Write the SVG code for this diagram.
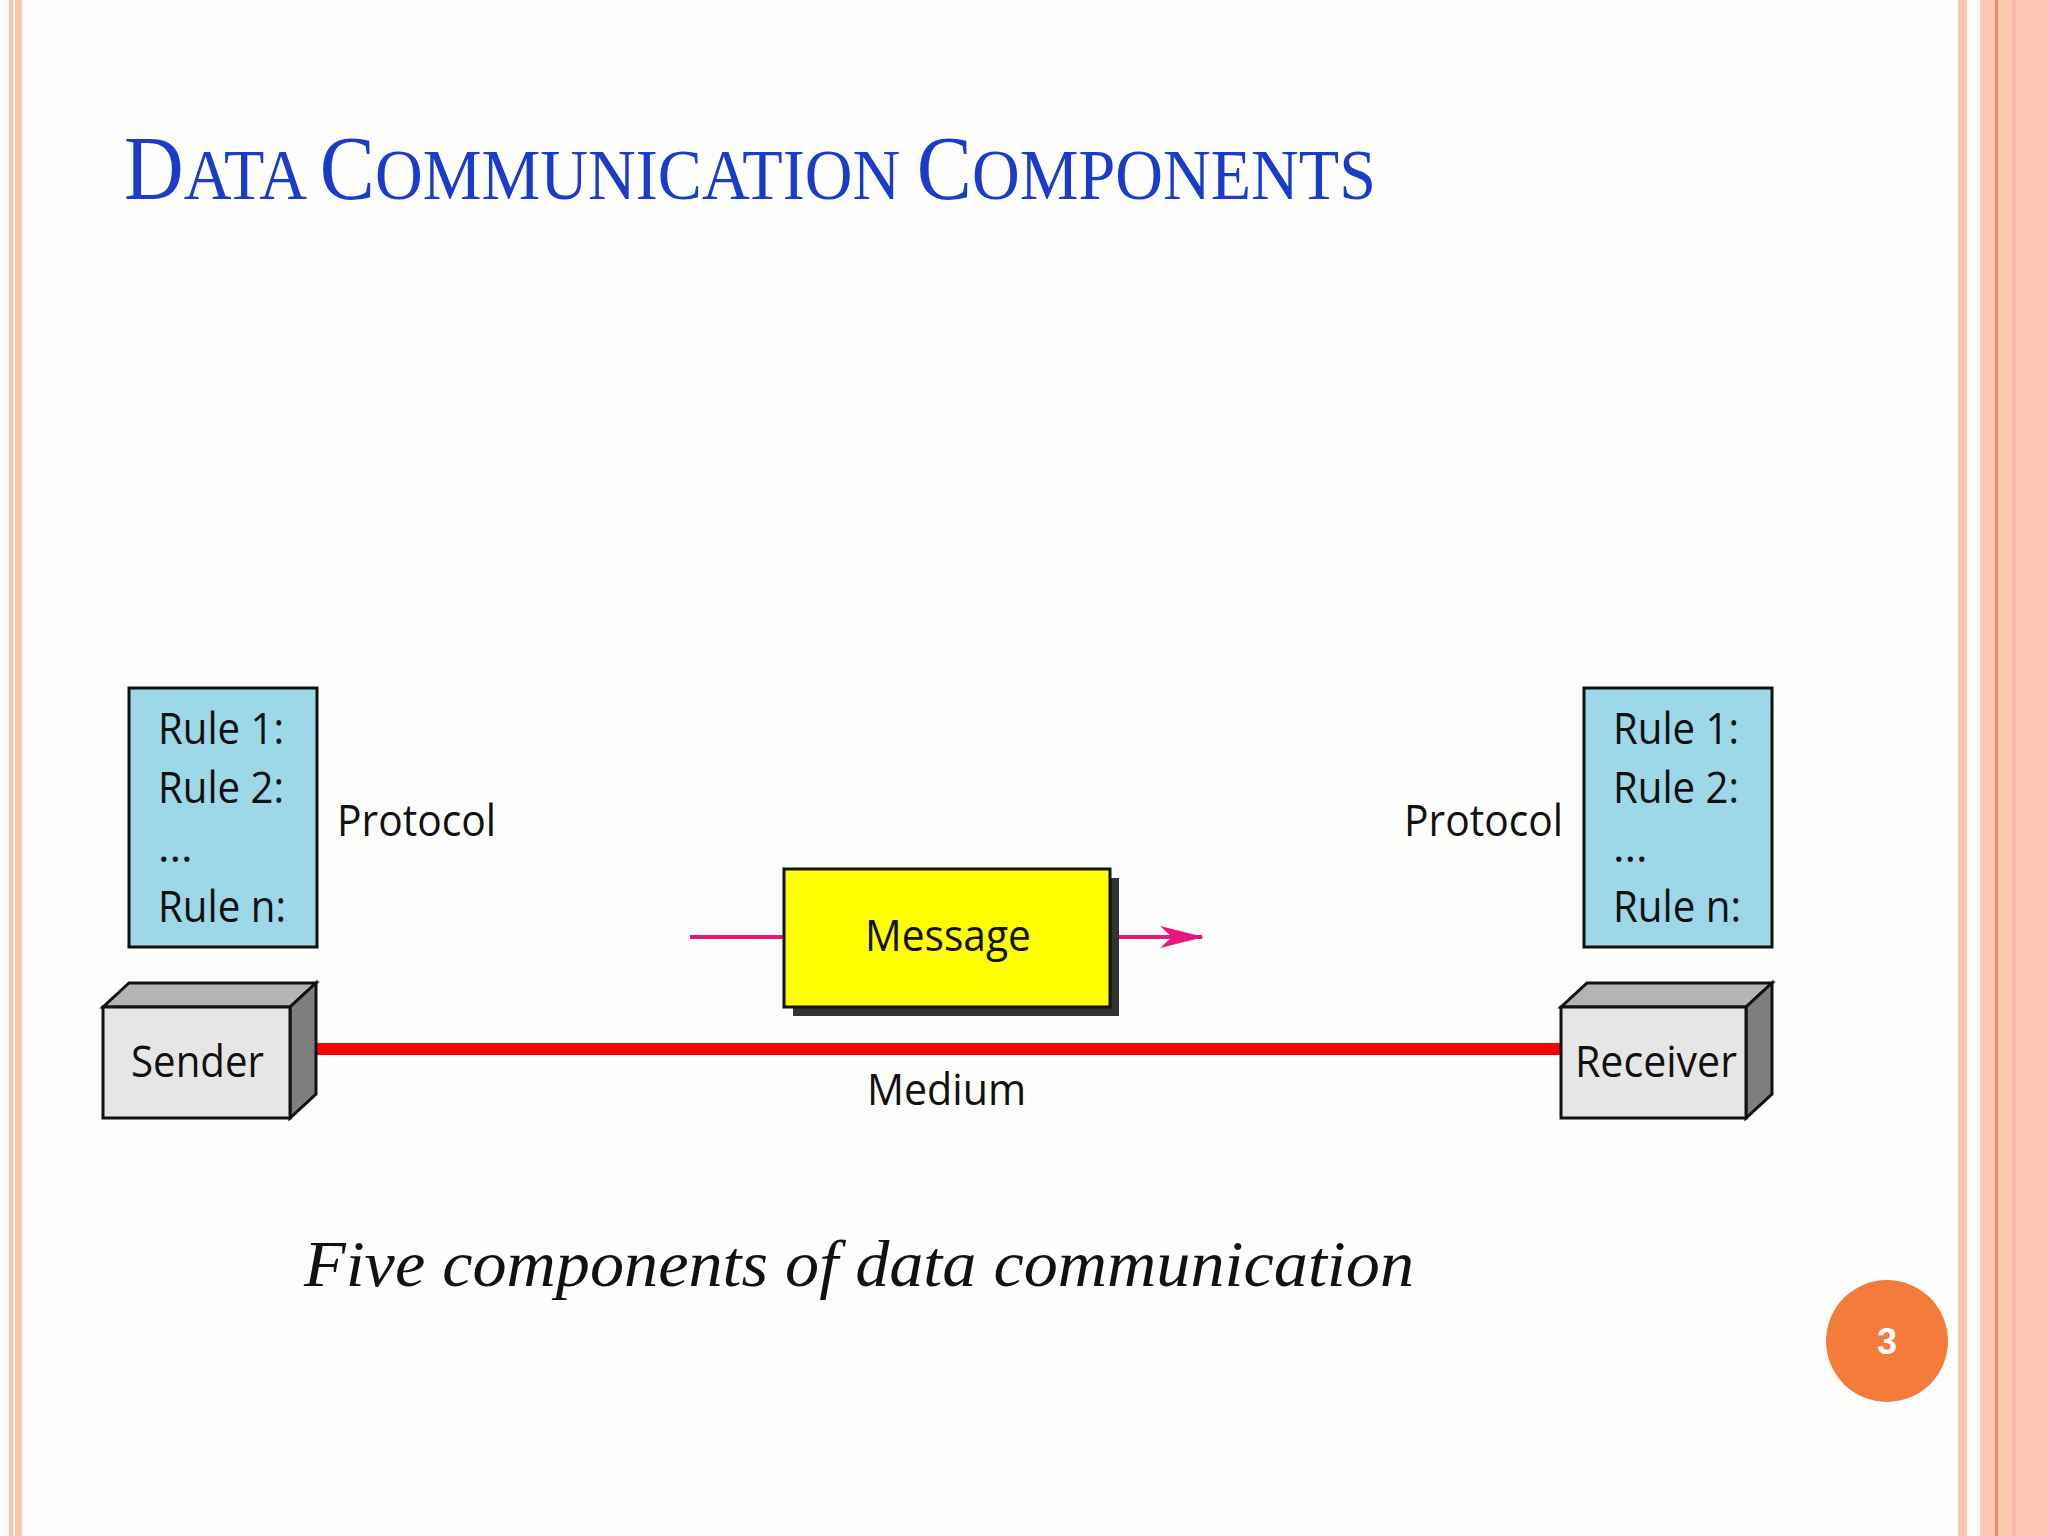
<svg xmlns="http://www.w3.org/2000/svg" width="2048" height="1536" viewBox="0 0 2048 1536">
<style>
.r{font-family:"Open Sans","Noto Sans",sans-serif;font-size:44px;fill:#111}
.rule{fill:#9dd8e8;stroke:#111;stroke-width:3}
.front{fill:#e6e6e6;stroke:#111;stroke-width:3}
.top{fill:#b4b4b4;stroke:#111;stroke-width:3}
.side{fill:#7e7e7e;stroke:#111;stroke-width:3}
</style>
<defs>
<marker id="ah" markerWidth="44" markerHeight="22" refX="42" refY="11" orient="auto" markerUnits="userSpaceOnUse"><path d="M0,0 L44,11 L0,22 L12,11 z" fill="#e8157f"/></marker>
</defs>
<rect width="2048" height="1536" fill="#fdfefc"/>
<rect x="9" y="0" width="4" height="1536" fill="#f9c4ae"/>
<rect x="15" y="0" width="7" height="1536" fill="#fcc6b2"/>
<rect x="1958" y="0" width="9" height="1536" fill="#fcc6b2"/>
<rect x="1980" y="0" width="68" height="1536" fill="#fdc9b4"/>
<rect x="1995" y="0" width="3" height="1536" fill="#f08a50"/>
<rect x="2012" y="0" width="4" height="1536" fill="#fbbba2"/>
<text x="124" y="199" font-family="Liberation Serif,serif" fill="#1a3cc8" font-size="72" textLength="1252" lengthAdjust="spacingAndGlyphs"><tspan font-size="90">D</tspan>ATA <tspan font-size="90">C</tspan>OMMUNICATION <tspan font-size="90">C</tspan>OMPONENTS</text>
<g id="connectors">
<line x1="303" y1="1049" x2="1561" y2="1049" stroke="#ff0000" stroke-width="12"/>
<line x1="690" y1="937" x2="784" y2="937" stroke="#e8157f" stroke-width="4"/>
<line x1="1110" y1="937" x2="1202" y2="937" stroke="#e8157f" stroke-width="4" marker-end="url(#ah)"/>
</g>
<g id="protocol-left">
<rect class="rule" x="129" y="688" width="188" height="259"/>
<text class="r" x="158" y="744" textLength="126" lengthAdjust="spacingAndGlyphs">Rule 1:</text>
<text class="r" x="158" y="803" textLength="126" lengthAdjust="spacingAndGlyphs">Rule 2:</text>
<text class="r" x="158" y="862">...</text>
<text class="r" x="158" y="922" textLength="128" lengthAdjust="spacingAndGlyphs">Rule n:</text>
<text class="r" x="337" y="836" textLength="159" lengthAdjust="spacingAndGlyphs">Protocol</text>
</g>
<g id="protocol-right">
<rect class="rule" x="1584" y="688" width="188" height="259"/>
<text class="r" x="1613" y="744" textLength="126" lengthAdjust="spacingAndGlyphs">Rule 1:</text>
<text class="r" x="1613" y="803" textLength="126" lengthAdjust="spacingAndGlyphs">Rule 2:</text>
<text class="r" x="1613" y="862">...</text>
<text class="r" x="1613" y="922" textLength="128" lengthAdjust="spacingAndGlyphs">Rule n:</text>
<text class="r" x="1404" y="836" textLength="159" lengthAdjust="spacingAndGlyphs">Protocol</text>
</g>
<g id="sender">
<polygon class="top" points="103,1007 129,983 316,983 290,1007"/>
<polygon class="side" points="290,1007 316,983 316,1094 290,1118"/>
<rect class="front" x="103" y="1007" width="187" height="111"/>
<text class="r" x="131" y="1077" textLength="133" lengthAdjust="spacingAndGlyphs">Sender</text>
</g>
<g id="receiver">
<polygon class="top" points="1561,1007 1587,983 1772,983 1746,1007"/>
<polygon class="side" points="1746,1007 1772,983 1772,1094 1746,1118"/>
<rect class="front" x="1561" y="1007" width="185" height="111"/>
<text class="r" x="1575" y="1077" textLength="162" lengthAdjust="spacingAndGlyphs">Receiver</text>
</g>
<g id="message">
<rect x="793" y="878" width="326" height="138" fill="#333"/>
<rect x="784" y="869" width="326" height="138" fill="#ffff00" stroke="#111" stroke-width="3"/>
<text class="r" x="865" y="951" textLength="166" lengthAdjust="spacingAndGlyphs">Message</text>
</g>
<text class="r" x="867" y="1105" textLength="159" lengthAdjust="spacingAndGlyphs">Medium</text>
<text x="304" y="1286" font-family="Liberation Serif,serif" font-style="italic" font-size="66" fill="#111" textLength="1110" lengthAdjust="spacingAndGlyphs">Five components of data communication</text>
<circle cx="1887" cy="1341" r="61" fill="#f47c3a"/>
<text x="1887" y="1354" text-anchor="middle" font-family="Liberation Sans,sans-serif" font-weight="bold" font-size="36" fill="#fff">3</text>
</svg>
